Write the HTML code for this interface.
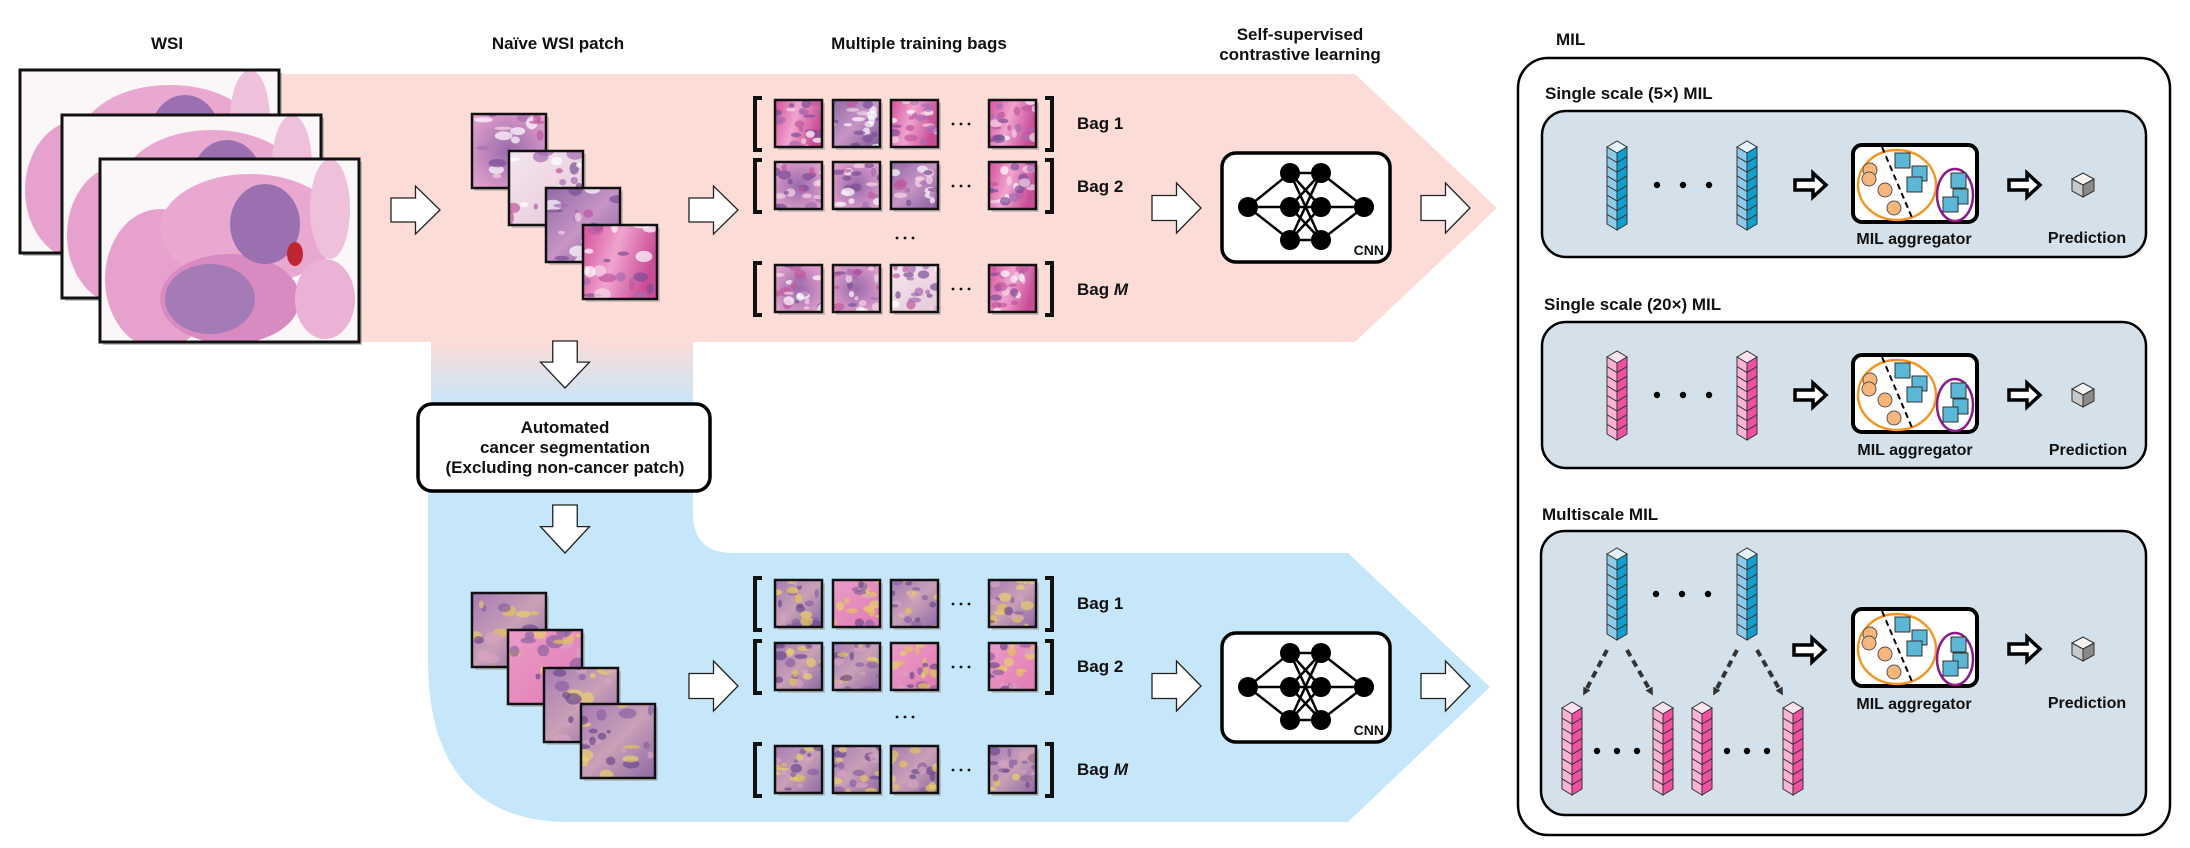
<!DOCTYPE html>
<html><head><meta charset="utf-8"><style>
html,body{margin:0;padding:0;background:#fff;}
svg{display:block;}
text{font-family:"Liberation Sans",Arial,sans-serif;font-weight:bold;fill:#111;}
</style></head><body>
<svg id="s" width="2190" height="848" viewBox="0 0 2190 848" xmlns="http://www.w3.org/2000/svg">
<defs>
<linearGradient id="stem" x1="0" y1="0" x2="0" y2="1">
<stop offset="0" stop-color="#fcdcd7"/><stop offset="1" stop-color="#c6e6f9"/></linearGradient>
<radialGradient id="tis1" cx="0.5" cy="0.5" r="0.7"><stop offset="0" stop-color="#9a6aac"/><stop offset="1" stop-color="#e9a6cf"/></radialGradient>
<radialGradient id="tis2" cx="0.4" cy="0.5" r="0.7"><stop offset="0" stop-color="#e38cc0"/><stop offset="1" stop-color="#f6dbe9"/></radialGradient>
<linearGradient id="tis3" x1="0" y1="0" x2="1" y2="1"><stop offset="0" stop-color="#8f6aa7"/><stop offset="0.5" stop-color="#c894c5"/><stop offset="1" stop-color="#7c5b9a"/></linearGradient>
<linearGradient id="tis4" x1="0" y1="0" x2="1" y2="1"><stop offset="0" stop-color="#f3e6ee"/><stop offset="1" stop-color="#e7c8da"/></linearGradient>
<linearGradient id="tis5" x1="0" y1="0" x2="1" y2="0.3"><stop offset="0" stop-color="#d64f9b"/><stop offset="0.5" stop-color="#f0a4cf"/><stop offset="1" stop-color="#c94d95"/></linearGradient>
<linearGradient id="tisY" x1="0" y1="0" x2="1" y2="1"><stop offset="0" stop-color="#a57bb4"/><stop offset="0.5" stop-color="#c9a0b6"/><stop offset="1" stop-color="#8e69a6"/></linearGradient>
<linearGradient id="tisP" x1="0" y1="0" x2="1" y2="1"><stop offset="0" stop-color="#ec9cc8"/><stop offset="1" stop-color="#e07bb3"/></linearGradient>
<marker id="ah" markerWidth="8" markerHeight="8" refX="4" refY="4" orient="auto" markerUnits="userSpaceOnUse"><path d="M0,0 L8,4 L0,8 Z" fill="#333"/></marker>
</defs>

<path d="M278,74 H1355 L1497,208 L1355,342 H278 Z" fill="#fcdcd7"/>
<rect x="431" y="341" width="262" height="64" fill="url(#stem)"/>
<path d="M428,403 H693 V513 Q693,553 733,553 H1348 L1490,687 L1348,822 H570 C470,822 428,760 428,660 Z" fill="#c6e6f9"/>

<text x="167" y="49" font-size="17" text-anchor="middle">WSI</text>
<text x="558" y="49" font-size="17" text-anchor="middle">Naïve WSI patch</text>
<text x="919" y="49" font-size="17" text-anchor="middle">Multiple training bags</text>
<text x="1300" y="40" font-size="17" text-anchor="middle">Self-supervised</text>
<text x="1300" y="60" font-size="17" text-anchor="middle">contrastive learning</text>
<text x="1556" y="45" font-size="17">MIL</text>

<g id="dyn"></g>

<rect x="418" y="404" width="292" height="87" rx="14" fill="#fff" stroke="#000" stroke-width="3.5"/>
<text x="565" y="433" font-size="17" text-anchor="middle">Automated</text>
<text x="565" y="453" font-size="17" text-anchor="middle">cancer segmentation</text>
<text x="565" y="473" font-size="17" text-anchor="middle">(Excluding non-cancer patch)</text>

<g font-size="17">
<text x="1077" y="129">Bag 1</text><text x="1077" y="192">Bag 2</text><text x="1077" y="295">Bag <tspan font-style="italic">M</tspan></text>
<text x="1077" y="609">Bag 1</text><text x="1077" y="672">Bag 2</text><text x="1077" y="775">Bag <tspan font-style="italic">M</tspan></text>
</g>
<text x="1384" y="255" font-size="14" text-anchor="end">CNN</text>
<text x="1384" y="735" font-size="14" text-anchor="end">CNN</text>

<rect x="1518" y="58" width="652" height="777" rx="30" fill="#fff" stroke="#000" stroke-width="2.5"/>
<text x="1545" y="99" font-size="17">Single scale (5×) MIL</text>
<rect x="1542" y="111" width="604" height="146" rx="24" fill="#d4e1ea" stroke="#000" stroke-width="2.5"/>
<text x="1544" y="310" font-size="17">Single scale (20×) MIL</text>
<rect x="1542" y="322" width="604" height="146" rx="24" fill="#d4e1ea" stroke="#000" stroke-width="2.5"/>
<text x="1542" y="520" font-size="17">Multiscale MIL</text>
<rect x="1541" y="531" width="605" height="284" rx="24" fill="#d4e1ea" stroke="#000" stroke-width="2.5"/>
<g id="dyn2"></g>
<g font-size="16">
<text x="1914" y="244" text-anchor="middle">MIL aggregator</text>
<text x="2087" y="243" text-anchor="middle">Prediction</text>
<text x="1915" y="455" text-anchor="middle">MIL aggregator</text>
<text x="2088" y="455" text-anchor="middle">Prediction</text>
<text x="1914" y="709" text-anchor="middle">MIL aggregator</text>
<text x="2087" y="708" text-anchor="middle">Prediction</text>
</g>
</svg>
<script>
(function(){
var NS="http://www.w3.org/2000/svg";
var g=document.getElementById('dyn'),g2=document.getElementById('dyn2');
function el(p,t,a){var e=document.createElementNS(NS,t);for(var k in a)e.setAttribute(k,a[k]);p.appendChild(e);return e;}
var seed=7;function rnd(){seed=(seed*16807)%2147483647;return seed/2147483647;}
function blobs(p,x,y,w,h,cols,n){for(var i=0;i<n;i++){el(p,'ellipse',{cx:x+rnd()*w,cy:y+rnd()*h,rx:2+rnd()*w*0.1,ry:1.5+rnd()*h*0.07,fill:cols[Math.floor(rnd()*cols.length)],opacity:0.7});}}
function patch(p,x,y,s,fill,cols,sw){
 el(p,'rect',{x:x+3,y:y+3,width:s,height:s,fill:'#999',opacity:0.5});
 el(p,'rect',{x:x,y:y,width:s,height:s,fill:fill});
 var cp='c'+Math.floor(rnd()*1e9);var d=el(p,'clipPath',{id:cp});el(d,'rect',{x:x,y:y,width:s,height:s});
 var gg=el(p,'g',{'clip-path':'url(#'+cp+')'});blobs(gg,x,y,s,s,cols,22);
 el(p,'rect',{x:x,y:y,width:s,height:s,fill:'none',stroke:'#111','stroke-width':sw||2.5});
}
[[20,70],[62,115],[100,159]].forEach(function(o){
 var x=o[0],y=o[1],w=259,h=183;
 el(g,'rect',{x:x+3,y:y+3,width:w,height:h,fill:'#888',opacity:0.5});
 el(g,'rect',{x:x,y:y,width:w,height:h,fill:'#fbf6f8'});
 var cp='w'+x;var d=el(g,'clipPath',{id:cp});el(d,'rect',{x:x,y:y,width:w,height:h});
 var gg=el(g,'g',{'clip-path':'url(#'+cp+')'});
 el(gg,'ellipse',{cx:x+60,cy:y+120,rx:55,ry:70,fill:'#e6a2cc'});
 el(gg,'ellipse',{cx:x+150,cy:y+70,rx:90,ry:55,fill:'#e9a8cf'});
 el(gg,'ellipse',{cx:x+130,cy:y+140,rx:70,ry:45,fill:'#d98ac1'});
 el(gg,'ellipse',{cx:x+165,cy:y+65,rx:35,ry:40,fill:'#9a70b0'});
 el(gg,'ellipse',{cx:x+110,cy:y+140,rx:45,ry:35,fill:'#a47ab7'});
 el(gg,'ellipse',{cx:x+225,cy:y+140,rx:30,ry:40,fill:'#eab3d5'});
 el(gg,'ellipse',{cx:x+195,cy:y+95,rx:8,ry:12,fill:'#c0262f'});
 el(gg,'ellipse',{cx:x+230,cy:y+50,rx:20,ry:50,fill:'#efc0dc'});
 el(g,'rect',{x:x,y:y,width:w,height:h,fill:'none',stroke:'#111','stroke-width':3});
});
var T1=['url(#tis1)','url(#tis4)','url(#tis3)','url(#tis5)'],C1=['#7a4f96','#f7d6e6','#c0579d','#fff','#a56cb1'];
var TY=['url(#tisY)','url(#tisP)','url(#tisY)','url(#tisY)'],CY=['#6c4c8e','#e4c45a','#d7a3c0','#8a63a2','#e8d06b'];
[[472,114],[509,151],[546,188],[583,225]].forEach(function(o,i){patch(g,o[0],o[1],74,T1[i],C1);});
[[472,593],[508,630],[544,668],[581,704]].forEach(function(o,i){patch(g,o[0],o[1],74,TY[i],CY);});
function bags(rows,T,C){rows.forEach(function(y){
 var h=48;
 el(g,'path',{d:'M762,'+(y-2)+' H755 V'+(y+h+2)+' H762',fill:'none',stroke:'#111','stroke-width':4});
 el(g,'path',{d:'M1045,'+(y-2)+' H1052 V'+(y+h+2)+' H1045',fill:'none',stroke:'#111','stroke-width':4});
 [775,833,891,989].forEach(function(x,j){patch(g,x,y,47,T[Math.floor(rnd()*4)],C,2.5);});
 [953,961,969].forEach(function(x){el(g,'circle',{cx:x,cy:y+24,r:1.4,fill:'#111'});});
});}
bags([100,162,265],T1,C1);bags([580,643,746],TY,CY);
[897,905,913].forEach(function(x){el(g,'circle',{cx:x,cy:238,r:1.4,fill:'#111'});el(g,'circle',{cx:x,cy:717,r:1.4,fill:'#111'});});
function rarr(x,y,w,h){var t=w*0.5,s=h*0.25;el(g,'path',{d:'M'+x+','+(y+h/2-s)+' H'+(x+t)+' V'+y+' L'+(x+w)+','+(y+h/2)+' L'+(x+t)+','+(y+h)+' V'+(y+h/2+s)+' H'+x+' Z',fill:'#fff',stroke:'#222','stroke-width':1.3});}
function darr(cx,y,w,h){var t=h*0.45,s=w*0.25;el(g,'path',{d:'M'+(cx-s)+','+y+' H'+(cx+s)+' V'+(y+t)+' H'+(cx+w/2)+' L'+cx+','+(y+h)+' L'+(cx-w/2)+','+(y+t)+' H'+(cx-s)+' Z',fill:'#fff',stroke:'#222','stroke-width':1.3});}
rarr(391,186,49,48);rarr(689,186,49,48);rarr(1152,183,49,50);rarr(1421,183,49,50);
rarr(689,661,49,50);rarr(1152,661,49,50);rarr(1421,661,49,50);
darr(565,341,49,47);darr(565,505,49,48);
[0,480].forEach(function(dy){
 el(g,'rect',{x:1222,y:153+dy,width:168,height:109,rx:14,fill:'#fff',stroke:'#000','stroke-width':3.5});
 var L=[1248,207+dy],R=[1364,207+dy],M=[[1290,173],[1290,207],[1290,240],[1321,173],[1321,207],[1321,240]].map(function(p){return [p[0],p[1]+dy];});
 var ln=function(a,b){el(g,'line',{x1:a[0],y1:a[1],x2:b[0],y2:b[1],stroke:'#000','stroke-width':2.5});};
 for(var i=0;i<3;i++){ln(L,M[i]);ln(R,M[3+i]);for(var j=0;j<3;j++)ln(M[i],M[3+j]);}
 [L,R].concat(M).forEach(function(p){el(g,'circle',{cx:p[0],cy:p[1],r:10,fill:'#000'});});
});
function col(x,y,h,c1,c2,top){
 var w=20,d=6,n=8,sh=(h-d*2)/n;
 el(g2,'path',{d:'M'+x+','+(y+d)+' L'+(x+w/2)+','+y+' L'+(x+w)+','+(y+d)+' L'+(x+w/2)+','+(y+2*d)+' Z',fill:top,stroke:'#333','stroke-width':1});
 for(var i=0;i<n;i++){var yy=y+d+i*sh;
  el(g2,'path',{d:'M'+x+','+yy+' L'+(x+w/2)+','+(yy+d)+' V'+(yy+d+sh)+' L'+x+','+(yy+sh)+' Z',fill:c1,stroke:'#333','stroke-width':1});
  el(g2,'path',{d:'M'+(x+w)+','+yy+' L'+(x+w/2)+','+(yy+d)+' V'+(yy+d+sh)+' L'+(x+w)+','+(yy+sh)+' Z',fill:c2,stroke:'#333','stroke-width':1});}
}
var B=['#8fcbe8','#0ea0cf','#e6f5fb'],P=['#f9b3d5','#f24fa0','#fde3f0'];
function dots(xs,y){xs.forEach(function(x){el(g2,'circle',{cx:x,cy:y,r:3.2,fill:'#000'});});}
function farr(x,y){el(g2,'path',{d:'M'+x+','+(y-5)+' H'+(x+18)+' V'+(y-12)+' L'+(x+31)+','+y+' L'+(x+18)+','+(y+12)+' V'+(y+5)+' H'+x+' Z',fill:'#fff',stroke:'#000','stroke-width':3.5,'stroke-linejoin':'miter'});}
function cube(cx,cy){var s=11,h=6;
 el(g2,'path',{d:'M'+(cx-s)+','+(cy-h)+' L'+cx+','+(cy-2*h)+' L'+(cx+s)+','+(cy-h)+' L'+cx+','+cy+' Z',fill:'#f4f4f4',stroke:'#333','stroke-width':1});
 el(g2,'path',{d:'M'+(cx-s)+','+(cy-h)+' L'+cx+','+cy+' V'+(cy+2*h)+' L'+(cx-s)+','+(cy+h)+' Z',fill:'#c8c8c8',stroke:'#333','stroke-width':1});
 el(g2,'path',{d:'M'+(cx+s)+','+(cy-h)+' L'+cx+','+cy+' V'+(cy+2*h)+' L'+(cx+s)+','+(cy+h)+' Z',fill:'#8a8a8a',stroke:'#333','stroke-width':1});}
function agg(x,y){
 el(g2,'rect',{x:x,y:y,width:124,height:77,rx:9,fill:'#fff',stroke:'#000','stroke-width':4});
 el(g2,'ellipse',{cx:x+44,cy:y+40,rx:39,ry:35,fill:'none',stroke:'#f7941d','stroke-width':2.5});
 el(g2,'line',{x1:x+29,y1:y+2,x2:x+60,y2:y+75,stroke:'#000','stroke-width':2,'stroke-dasharray':'6,4'});
 [[17,25],[16,34],[32,45],[41,63]].forEach(function(p){el(g2,'circle',{cx:x+p[0],cy:y+p[1],r:7,fill:'#f8b67a',stroke:'#555','stroke-width':1});});
 el(g2,'ellipse',{cx:x+102,cy:y+50,rx:18,ry:26,fill:'none',stroke:'#8b1a8b','stroke-width':2.5});
 [[42,8],[59,21],[54,32],[98,28],[100,44],[90,52]].forEach(function(p){el(g2,'rect',{x:x+p[0],y:y+p[1],width:15,height:15,fill:'#5bb7d6',stroke:'#333','stroke-width':1});});
}
function panel(dy,c){
 col(1607,141+dy,89,c[0],c[1],c[2]);col(1737,141+dy,89,c[0],c[1],c[2]);
 dots([1657,1683,1709],185+dy);farr(1795,185+dy);agg(1853,145+dy);farr(2009,185+dy);cube(2083,185+dy);
}
panel(0,B);panel(210,P);
col(1607,548,92,B[0],B[1],B[2]);col(1737,548,92,B[0],B[1],B[2]);dots([1656,1682,1708],594);
[1562,1653,1692,1783].forEach(function(x){col(x,702,93,P[0],P[1],P[2]);});
dots([1597,1617,1637],751);dots([1727,1747,1767],751);
[[1607,650,1585,692],[1627,650,1651,692],[1737,650,1715,692],[1757,650,1781,692]].forEach(function(a){
 el(g2,'line',{x1:a[0],y1:a[1],x2:a[2],y2:a[3],stroke:'#333','stroke-width':4,'stroke-dasharray':'7,5','marker-end':'url(#ah)'});});
farr(1794,650);agg(1853,609);farr(2009,649);cube(2083,649);
})();
</script>
</body></html>
